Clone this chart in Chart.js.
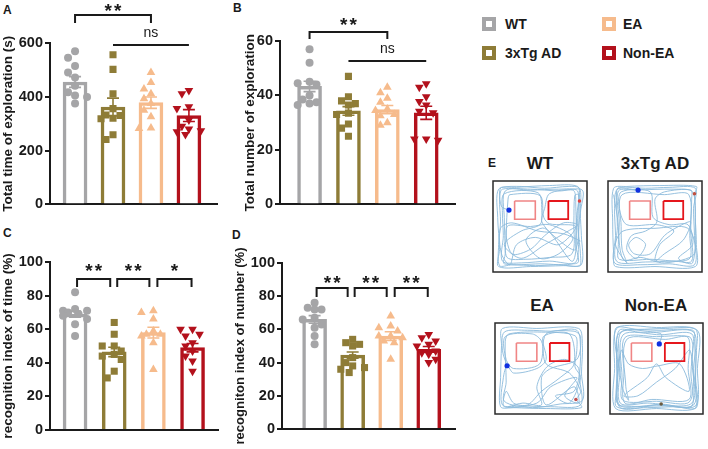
<!DOCTYPE html>
<html><head><meta charset="utf-8">
<script src="https://cdn.jsdelivr.net/npm/chart.js@4"></script>
<style>
body{margin:0;background:#fff;width:708px;height:449px;position:relative;overflow:hidden;font-family:"Liberation Sans",Arial,sans-serif;color:#1a1a1a;}
canvas{position:absolute;}
.t{position:absolute;font-weight:bold;white-space:nowrap;line-height:1;}
.pl{font-size:12px;}
.lg{font-size:14px;}
.et{font-size:17px;transform:translateX(-50%);}
.sq{position:absolute;width:14px;height:14px;box-sizing:border-box;border:4px solid;background:#fff;}
</style></head><body>

<div class="t pl" style="left:3px;top:4px">A</div>
<div class="t pl" style="left:233px;top:2px">B</div>
<div class="t pl" style="left:3px;top:227px">C</div>
<div class="t pl" style="left:232px;top:229px">D</div>
<div class="t pl" style="left:488px;top:157px">E</div>

<canvas id="cA" width="230" height="215" style="left:0;top:0"></canvas>
<canvas id="cB" width="230" height="215" style="left:230px;top:0"></canvas>
<canvas id="cC" width="230" height="234" style="left:0;top:215px"></canvas>
<canvas id="cD" width="230" height="234" style="left:230px;top:215px"></canvas>

<div class="sq" style="left:482px;top:17px;border-color:#a5a5a7"></div>
<div class="t lg" style="left:505px;top:17px">WT</div>
<div class="sq" style="left:482px;top:46px;border-color:#8e7c37"></div>
<div class="t lg" style="left:505px;top:46px">3xTg AD</div>
<div class="sq" style="left:602px;top:17px;border-color:#f6bb8c"></div>
<div class="t lg" style="left:623px;top:17px">EA</div>
<div class="sq" style="left:602px;top:46px;border-color:#b3111c"></div>
<div class="t lg" style="left:623px;top:46px">Non-EA</div>

<div class="t et" style="left:540px;top:155px">WT</div>
<div class="t et" style="left:655px;top:155px">3xTg AD</div>
<div class="t et" style="left:542px;top:297px">EA</div>
<div class="t et" style="left:656px;top:297px">Non-EA</div>

<canvas id="eWT" width="102" height="99" style="left:489px;top:177px"></canvas>
<canvas id="eTg" width="102" height="99" style="left:604px;top:177px"></canvas>
<canvas id="eEA" width="101" height="99" style="left:491px;top:319px"></canvas>
<canvas id="eNon" width="101" height="99" style="left:606px;top:319px"></canvas>

<script>
// ---------------- data ----------------
const groups = ['WT', '3xTg AD', 'EA', 'Non-EA'];

// A: Total time of exploration (s)
const timeMean = [455, 362, 378, 330];
const timeSem  = [20, 33, 21, 22];
const timeWT   = [569, 545, 514, 490, 472, 441, 417, 405, 399, 375];
const timeTg   = [556, 502, 411, 356, 332, 330, 320, 318, 259, 241];
const timeEA   = [490, 453, 429, 411, 393, 375, 350, 326, 284, 282];
const timeNon  = [423, 411, 363, 356, 314, 290, 274, 270, 280, 260];

// B: Total number of exploration
const numMean = [43.3, 34.3, 34.8, 33.6];
const numSem  = [1.9, 1.6, 1.5, 2.4];
const numWT   = [57, 52, 45, 44.5, 44, 40, 38.5, 37.5, 37, 36.5];
const numTg   = [47, 39.5, 38, 37, 36.5, 33.5, 33, 29.5, 28, 25];
const numEA   = [43, 41, 39, 37.5, 35, 34.5, 33, 32.5, 30, 29];
const numNon  = [44.3, 43, 39.5, 37.8, 36.5, 34.2, 33.6, 24, 24, 23.5];

// C: recognition index of time (%)
const riTimeMean = [69, 46.5, 58, 49];
const riTimeSem  = [1.8, 2.8, 3.2, 2.5];
const riTimeWT   = [82, 72, 71, 71, 70, 69, 68, 66, 63, 56];
const riTimeTg   = [64, 57, 50, 50, 47, 45, 44, 42, 35, 31];
const riTimeEA   = [71, 70, 66, 59, 57, 57, 56, 52, 36];
const riTimeNon  = [60, 60, 57, 56, 52, 50, 47, 44, 41, 35];

// D: recogniton index of number (%)
const riNumMean = [66, 44.5, 56, 48];
const riNumSem  = [2.3, 1.9, 2.6, 1.7];
const riNumWT   = [76, 73, 72, 72, 67, 66, 63, 61, 56, 51];
const riNumTg   = [54, 52, 51, 50, 43, 40, 38, 37, 36, 34];
const riNumEA   = [68, 62, 61, 59, 56, 56, 55, 53, 52, 42];
const riNumNon  = [57, 55, 53, 51, 50, 47, 46, 45, 42, 40];

// E: exploration tracks (x %, y % from top of arena)
const trackWT = [[17,32],[9,28],[7,12],[9,7],[30,6],[55,8],[80,6],[92,8],[93,30],[91,55],[93,80],[92,93],[70,92],[45,93],[20,92],[7,93],[6,70],[8,45],[7,20],[10,9],[40,10],[70,9],[90,11],[89,40],[88,70],[90,90],[60,88],[30,90],[10,88],[11,60],[10,35],[12,14],[48,13],[52,35],[50,48],[30,55],[12,70],[30,85],[55,70],[80,55],[90,48],[75,46],[55,60],[40,75],[20,80],[15,50],[40,50],[60,48],[85,62],[70,80],[50,85],[35,65],[55,52],[85,88],[88,20],[85,10],[60,14],[55,30],[52,45],[70,65],[88,75],[92,22]];
const loopsWT = [[92,22],[90,6],[60,5],[25,7],[6,9],[5,40],[7,75],[6,94],[40,94],[75,93],[94,92],[94,60],[93,35],[95,10],[70,11],[40,9],[13,11],[12,40],[13,80],[12,91],[50,91],[87,90],[91,70],[90,45],[91,15],[87,16],[86,45],[84,80],[60,84],[35,86],[15,84],[14,60],[16,20],[18,15],[50,16],[54,40],[60,47],[88,50],[70,70],[45,62],[25,70],[18,92],[9,80],[8,52],[20,46],[48,55],[75,58],[93,66]];
const trackTg = [[32,10],[10,9],[7,30],[8,60],[7,90],[35,92],[65,91],[92,92],[92,60],[91,30],[93,8],[65,7],[40,8],[12,7],[9,12],[10,50],[9,88],[40,89],[70,88],[89,88],[88,55],[89,20],[88,10],[60,12],[50,20],[52,45],[40,55],[25,60],[20,75],[30,85],[40,70],[30,62],[22,70],[28,80],[45,80],[60,60],[75,50],[88,45],[80,65],[60,80],[50,88],[55,70],[70,55],[52,48],[20,48],[12,30],[14,12],[45,12],[48,40],[65,48],[85,48],[90,70],[75,85],[90,90],[93,40],[92,14]];
const loopsTg = [[92,14],[94,6],[55,5],[20,6],[6,8],[5,45],[6,80],[8,94],[50,94],[93,94],[94,70],[93,45],[90,12],[70,9],[30,10],[11,11],[12,45],[11,70],[12,86],[45,86],[86,86],[87,60],[86,15],[60,15],[15,15],[14,50],[15,75],[20,90],[8,70],[16,55],[50,52],[85,52],[92,80],[60,90],[35,84],[16,86],[10,40],[6,15]];
const trackEA = [[13,47],[8,30],[10,10],[35,8],[60,9],[88,8],[92,30],[91,60],[92,90],[60,92],[30,91],[8,90],[9,60],[13,47],[20,55],[45,50],[55,40],[52,15],[80,12],[85,45],[70,60],[50,75],[35,90],[20,88],[12,75],[10,92],[45,88],[60,70],[88,60],[75,80],[90,88],[85,70],[55,90],[50,60],[60,50],[88,40],[92,15],[85,9],[55,12],[48,45],[20,50],[12,40],[11,15],[40,12],[50,20],[55,45],[80,55],[92,75],[87,84]];
const loopsEA = [[87,84],[93,93],[55,94],[20,93],[6,92],[6,60],[7,25],[8,6],[45,6],[90,6],[94,25],[93,55],[94,85],[70,89],[40,93],[10,86],[12,65],[11,20],[15,12],[50,10],[86,14],[88,30],[86,48],[92,60],[80,88],[65,80],[85,75],[90,50],[75,40],[56,48],[45,70],[50,90],[30,88],[14,92]];
const trackNon = [[53,23],[55,12],[30,10],[10,8],[7,40],[8,70],[7,92],[40,93],[70,92],[93,93],[92,60],[93,30],[92,7],[60,6],[30,7],[6,6],[9,50],[9,90],[50,90],[90,90],[90,50],[90,10],[50,10],[12,10],[11,50],[11,88],[40,88],[88,88],[88,40],[88,12],[55,13],[14,13],[13,60],[14,85],[50,86],[86,86],[86,30],[70,50],[50,65],[30,80],[15,80],[40,60],[50,45],[60,60],[85,75],[75,45],[52,47],[35,50],[20,45],[12,30],[10,92],[55,89]];
const loopsNon = [[55,89],[92,91],[94,50],[94,8],[50,5],[8,5],[5,50],[6,94],[50,94],[91,94],[92,70],[91,20],[89,8],[55,8],[10,11],[8,50],[8,85],[12,91],[60,91],[88,91],[87,55],[89,25],[85,15],[50,15],[16,16],[15,55],[16,88],[45,84],[85,84],[84,50],[84,16],[60,18],[18,18],[17,70],[20,85],[13,70],[7,20]];
const objLeft  = [[23,22],[45,22],[45,42],[23,42],[23,22]];
const objRight = [[59,22],[80,22],[80,42],[59,42],[59,22]];
const endWT = [92,22], endTg = [92,14], endEA = [87,84], endNon = [55,89];

// ---------------- style ----------------
const colors = ['#a5a5a7', '#8e7c37', '#f6bb8c', '#b3111c'];
const ink = '#1a1a1a';
Chart.defaults.font.family = '"Liberation Sans", Arial, sans-serif';
Chart.defaults.color = ink;

function swarm(vals, pxPerUnit, unitPx) {
  const order = vals.map((v, i) => i).sort((a, b) => vals[b] - vals[a]);
  const placed = [];
  const off = new Array(vals.length).fill(0);
  const cands = [0, -7, 7, -12, 12, -3.5, 3.5];
  order.forEach(i => {
    const py = vals[i] * pxPerUnit;
    let best = 0, bestD = -1;
    for (const c of cands) {
      let minD = Infinity;
      for (const p of placed) { const d = Math.hypot(p.x - c, p.y - py); if (d < minD) minD = d; }
      if (minD >= 7.5) { best = c; break; }
      if (minD > bestD) { bestD = minD; best = c; }
    }
    placed.push({x: best, y: py});
    off[i] = best / unitPx;
  });
  return off;
}

const decor = {
  id: 'decor',
  afterDatasetsDraw(chart, args, o) {
    const {ctx, chartArea, scales: {x, y}} = chart;
    ctx.save();
    o.means.forEach((m, i) => {
      const cx = x.getPixelForValue(i);
      const yt = y.getPixelForValue(m + o.sems[i]);
      const yb = y.getPixelForValue(m - o.sems[i]);
      ctx.strokeStyle = colors[i]; ctx.lineWidth = 1.6;
      ctx.beginPath();
      ctx.moveTo(cx, yt); ctx.lineTo(cx, yb);
      ctx.moveTo(cx - 6, yt); ctx.lineTo(cx + 6, yt);
      ctx.moveTo(cx - 6, yb); ctx.lineTo(cx + 6, yb);
      ctx.stroke();
    });
    ctx.strokeStyle = ink; ctx.fillStyle = ink; ctx.lineWidth = 2;
    (o.brackets || []).forEach(b => {
      const x1 = x.getPixelForValue(b.a) + (b.ia || 0);
      const x2 = x.getPixelForValue(b.b) + (b.ib || 0);
      const yTop = chartArea.top + b.top;
      ctx.beginPath();
      if (b.leg) { ctx.moveTo(x1, yTop + b.leg); ctx.lineTo(x1, yTop); ctx.lineTo(x2, yTop); ctx.lineTo(x2, yTop + b.leg); }
      else { ctx.moveTo(x1, yTop); ctx.lineTo(x2, yTop); }
      ctx.stroke();
      const cx = (x1 + x2) / 2 + (b.dx || 0);
      const ty = chartArea.top + b.ty;
      if (b.text === 'ns') {
        ctx.font = '14px "Liberation Sans", Arial, sans-serif';
        ctx.textAlign = 'center'; ctx.textBaseline = 'alphabetic';
        ctx.fillText('ns', cx, ty + 3.6);
      } else {
        ctx.font = 'bold 19px "Liberation Sans", Arial, sans-serif';
        ctx.textAlign = 'center'; ctx.textBaseline = 'alphabetic';
        const n = b.text.length, sp = 9.5;
        for (let k = 0; k < n; k++) ctx.fillText('*', cx + (k - (n - 1) / 2) * sp, ty + 11);
      }
    });
    ctx.restore();
  }
};

function barChart(id, L, means, sems, pts, yTitle, brackets) {
  const pxPerUnit = (L.bottom - L.top) / L.ymax;
  const unitPx = (L.right - L.left) / (L.xmax - L.xmin);
  const styles = ['circle', 'rect', 'triangle', 'triangle'];
  const radii = [4, 5, 5, 5];
  const ds = pts.map((vals, g) => {
    const off = swarm(vals, pxPerUnit, unitPx);
    return {
      type: 'scatter',
      data: vals.map((v, i) => ({x: g + off[i], y: v})),
      pointStyle: styles[g], pointRadius: radii[g], pointRotation: g === 3 ? 180 : 0,
      backgroundColor: colors[g], borderWidth: 0, pointHoverRadius: radii[g], order: 1
    };
  });
  ds.push({
    type: 'bar',
    data: means.map((m, i) => ({x: i, y: m})),
    backgroundColor: '#fff', borderColor: colors, borderWidth: 3.5,
    barThickness: 24, order: 2
  });
  new Chart(document.getElementById(id), {
    type: 'bar',
    data: {datasets: ds},
    options: {
      responsive: false, animation: false, devicePixelRatio: 1,
      layout: {padding: {left: L.pl, top: L.top, right: L.cw - L.right, bottom: L.ch - L.bottom}},
      plugins: {legend: {display: false}, tooltip: {enabled: false},
        decor: {means, sems, brackets}},
      scales: {
        x: {type: 'linear', min: L.xmin, max: L.xmax, offset: false,
          ticks: {display: false},
          grid: {display: true, drawOnChartArea: false, drawTicks: false},
          border: {display: true, color: ink, width: 2},
          afterFit(s) { s.height = 0; }},
        y: {min: 0, max: L.ymax,
          ticks: {stepSize: L.step, color: ink, font: {size: 14.5, weight: 'bold'}, padding: 2},
          grid: {drawOnChartArea: false, drawTicks: true, tickLength: 5, tickWidth: 2, tickColor: ink, lineWidth: 2},
          border: {display: true, color: ink, width: 2},
          title: {display: true, text: yTitle, color: ink, font: {size: L.tf, weight: 'bold'}, padding: 0},
          afterFit(s) { s.width = L.left - L.pl; }}
      }
    },
    plugins: [decor]
  });
}

barChart('cA', {cw: 230, ch: 215, left: 50, right: 217, top: 43, bottom: 208, pl: 0, xmin: -0.66, xmax: 3.74, ymax: 600, step: 200, tf: 13.5},
  timeMean, timeSem, [timeWT, timeTg, timeEA, timeNon], 'Total time of exploration (s)',
  [{a: 0, b: 2, top: -28, leg: 8, text: '**', ty: -37}, {a: 1, b: 3, top: 2, text: 'ns', ty: -10}]);

barChart('cB', {cw: 230, ch: 215, left: 50, right: 227, top: 41, bottom: 209, pl: 12, xmin: -0.76, xmax: 3.74, ymax: 60, step: 20, tf: 13.5},
  numMean, numSem, [numWT, numTg, numEA, numNon], 'Total number of exploration',
  [{a: 0, b: 2, top: -9, leg: 7, text: '**', ty: -21}, {a: 1, b: 3, top: 20, text: 'ns', ty: 8}]);

barChart('cC', {cw: 230, ch: 234, left: 50, right: 218, top: 47, bottom: 215, pl: 0, xmin: -0.64, xmax: 3.65, ymax: 100, step: 20, tf: 13.5},
  riTimeMean, riTimeSem, [riTimeWT, riTimeTg, riTimeEA, riTimeNon], 'recognition index of time (%)',
  [{a: 0, b: 1, ia: 2, ib: -4, top: 17, leg: 8, text: '**', ty: 4},
   {a: 1, b: 2, ia: 3, ib: -4, top: 17, leg: 8, text: '**', ty: 4},
   {a: 2, b: 3, ia: 4, ib: -1, top: 17, leg: 8, text: '*', ty: 4}]);

barChart('cD', {cw: 230, ch: 234, left: 52, right: 227, top: 48, bottom: 214, pl: 3, xmin: -0.857, xmax: 3.69, ymax: 100, step: 20, tf: 13.1},
  riNumMean, riNumSem, [riNumWT, riNumTg, riNumEA, riNumNon], 'recogniton index of number (%)',
  [{a: 0, b: 1, ia: 2, ib: -5, top: 25, leg: 9, text: '**', ty: 15},
   {a: 1, b: 2, ia: 2, ib: -4, top: 25, leg: 9, text: '**', ty: 15},
   {a: 2, b: 3, ia: 4, ib: -1, top: 25, leg: 9, text: '**', ty: 15}]);

// ---------------- tracks ----------------
const frame = {
  id: 'frame',
  afterDraw(chart) {
    const {ctx, chartArea: a} = chart;
    ctx.save(); ctx.strokeStyle = '#2a2a2a'; ctx.lineWidth = 1.5;
    ctx.strokeRect(a.left, a.top, a.right - a.left, a.bottom - a.top);
    ctx.restore();
  }
};
function pts(arr) { return arr.map(p => ({x: p[0], y: p[1]})); }
function trackChart(id, track, loops, endPt, endColor) {
  const pathStyle = {showLine: true, pointRadius: 0, borderColor: 'rgba(140,186,220,0.9)', borderWidth: 1, tension: 0.3};
  new Chart(document.getElementById(id), {
    type: 'scatter',
    data: {datasets: [
      {data: pts([track[0]]), pointRadius: 2.6, backgroundColor: '#1030e0', borderWidth: 0},
      {data: pts([endPt]), pointRadius: 1.8, backgroundColor: endColor, borderWidth: 0},
      {data: pts(objLeft), showLine: true, pointRadius: 0, borderColor: '#f08585', borderWidth: 1.6, tension: 0},
      {data: pts(objRight), showLine: true, pointRadius: 0, borderColor: '#e5161c', borderWidth: 1.8, tension: 0},
      Object.assign({data: pts(track)}, pathStyle),
      Object.assign({data: pts(loops)}, pathStyle)
    ]},
    options: {
      responsive: false, animation: false, devicePixelRatio: 1,
      layout: {padding: 1},
      plugins: {legend: {display: false}, tooltip: {enabled: false}},
      scales: {x: {display: false, min: 0, max: 100}, y: {display: false, min: 0, max: 100, reverse: true}}
    },
    plugins: [frame]
  });
}
trackChart('eWT', trackWT, loopsWT, endWT, '#e04040');
trackChart('eTg', trackTg, loopsTg, endTg, '#c05040');
trackChart('eEA', trackEA, loopsEA, endEA, '#c05050');
trackChart('eNon', trackNon, loopsNon, endNon, '#6a5a40');
</script>
</body></html>
